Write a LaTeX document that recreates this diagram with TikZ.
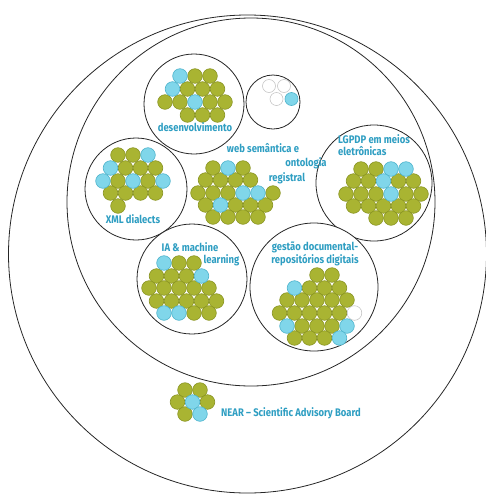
\documentclass[tikz,border=0pt]{standalone}
\usepackage{fontspec}
\setmainfont{Fira Sans}[FakeStretch=0.86]
\usepackage{xcolor}
\usepackage{tikz}

\definecolor{leaf}{HTML}{A9B432}
\definecolor{leafline}{HTML}{8A9524}
\definecolor{sky}{HTML}{80D6EA}
\definecolor{skyline}{HTML}{4FB4CC}
\definecolor{ink}{HTML}{2E9EC2}

\begin{document}
\begin{tikzpicture}[x=1pt,y=-1pt,font=\fontsize{11}{12.5}\selectfont\bfseries,
  ring/.style={draw=black!85,line width=0.8pt},
  gdot/.style={fill=leaf,draw=leafline,line width=0.6pt},
  cdot/.style={fill=sky,draw=skyline,line width=0.6pt},
  wdot/.style={fill=white,draw=black!25,line width=0.5pt},
  lbl/.style={text=ink,inner sep=0pt}]
  \useasboundingbox (0,0) rectangle (486,496);
  % enclosing circles
  \draw[ring] (247.5,254) circle[radius=239];
  \draw[ring] (251,202) circle[radius=184];
  % topic circles
  \draw[ring,fill=white] (194,104) circle[radius=50];
  \draw[ring,fill=white] (273,102) circle[radius=27];
  \draw[ring,fill=white] (136,189) circle[radius=51];
  \draw[ring,fill=white] (374,183) circle[radius=58];
  \draw[ring,fill=white] (192,279) circle[radius=55];
  \draw[ring,fill=white] (314,287) circle[radius=64];

  % desenvolvimento
  \foreach \x/\y in {195/76,210/76,187.5/89,202.5/89,217.5/89,165/102,180/102,210/102,225/102,
    187.5/115,202.5/115,217.5/115}
    \draw[gdot] (\x,\y) circle[radius=7.3];
  \foreach \x/\y in {180/76,172.5/89,195/102}
    \draw[cdot] (\x,\y) circle[radius=7.3];
  \node[lbl] (desenv) at (195,127) {desenvolvimento};

  % small empty circle
  \foreach \x/\y in {269/86,284/86,276.5/99}
    \draw[wdot] (\x,\y) circle[radius=6.5];
  \draw[cdot] (291.5,99) circle[radius=6.5];

  % XML dialects
  \foreach \x/\y in {118/155,133/155,125.5/168,140.5/168,155.5/168,118/181,148/181,
    110.5/193,125.5/193,140.5/193,155.5/193,118/206}
    \draw[gdot] (\x,\y) circle[radius=7.3];
  \foreach \x/\y in {148/155,110.5/168,103/181,133/181,163/181}
    \draw[cdot] (\x,\y) circle[radius=7.3];
  \node[lbl] (xml) at (133,219) {XML dialects};

  % web semantica
  \foreach \x/\y in {213/168,243/168,205.5/180,220.5/180,235.5/180,250.5/180,
    198/193,213/193,228/193,273/193,205.5/205,235.5/205,250.5/205,265.5/205,
    213/217,228/217,243/217,258/217}
    \draw[gdot] (\x,\y) circle[radius=7.3];
  \foreach \x/\y in {228/168,243/193,258/193,220.5/205}
    \draw[cdot] (\x,\y) circle[radius=7.3];
  \node[lbl] (web1) at (263,148) {web semântica e};
  \node[lbl] (web2) at (306,163) {ontologia};
  \node[lbl] (web3) at (287,178) {registral};

  % LGPDP
  \foreach \x/\y in {361/169,376/169,353.5/181,368.5/181,398.5/181,413.5/181,
    346/194,361/194,376/194,406/194,421/194,
    353.5/206,368.5/206,383.5/206,398.5/206,413.5/206,376/218,391/218,406/218}
    \draw[gdot] (\x,\y) circle[radius=7.3];
  \foreach \x/\y in {391/169,406/169,383.5/181,391/194}
    \draw[cdot] (\x,\y) circle[radius=7.3];
  \node[lbl,align=left,anchor=north west] (lgpd) at (338,134) {LGPDP em meios\\eletrônicas};

  % IA & machine learning
  \foreach \x/\y in {179/263,194/263,156.5/276,171.5/276,186.5/276,
    149/288,164/288,179/288,194/288,209/288,
    156.5/301,171.5/301,186.5/301,201.5/301,216.5/301,194/313,209/313}
    \draw[gdot] (\x,\y) circle[radius=7.3];
  \foreach \x/\y in {164/263,201.5/276,164/313,179/313}
    \draw[cdot] (\x,\y) circle[radius=7.3];
  \node[lbl] (ia1) at (190,247) {IA \& machine};
  \node[lbl] (ia2) at (221.5,260) {learning};

  % gestao documental
  \foreach \x/\y in {317/275,332/275,309.5/288,324.5/288,339.5/288,
    287/300,302/300,317/300,332/300,347/300,
    279.5/313,294.5/313,309.5/313,324.5/313,339.5/313,
    302/326,317/326,332/326,294.5/338,309.5/338,324.5/338}
    \draw[gdot] (\x,\y) circle[radius=7.3];
  \foreach \x/\y in {294.5/288,287/326,347/326,339.5/338}
    \draw[cdot] (\x,\y) circle[radius=7.3];
  \draw[wdot] (354.5,313) circle[radius=7.3];
  \node[lbl,align=center] (gestao) at (315,254) {gestão documental-\\repositórios digitais};

  % NEAR board
  \foreach \x/\y in {185/390,200/390,177.5/402,207.5/402,185/414}
    \draw[gdot] (\x,\y) circle[radius=7.3];
  \foreach \x/\y in {192.5/402,200/414}
    \draw[cdot] (\x,\y) circle[radius=7.3];
  \node[lbl,anchor=west] (near) at (221,413) {NEAR – Scientific Advisory Board};
\end{tikzpicture}
\end{document}
